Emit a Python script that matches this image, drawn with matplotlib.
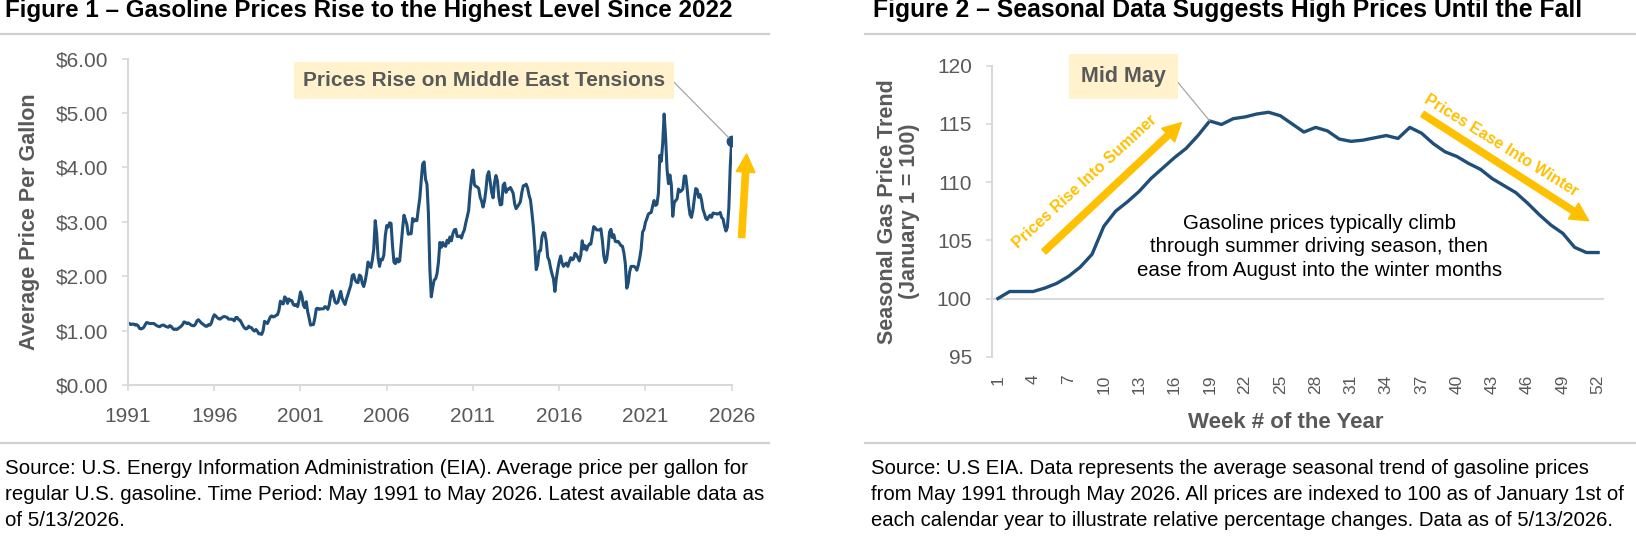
import matplotlib.pyplot as plt
from matplotlib.lines import Line2D

# ---- data: Figure 1, average U.S. regular gasoline price ($/gal), monthly, May 1991 - May 2026
p1991 = [1.14, 1.13, 1.11, 1.12, 1.12, 1.10, 1.11, 1.09]          # May-Dec
p1992 = [1.04, 1.03, 1.04, 1.06, 1.11, 1.15, 1.14, 1.13, 1.13, 1.13, 1.13, 1.11]
p1993 = [1.09, 1.08, 1.07, 1.09, 1.10, 1.10, 1.08, 1.07, 1.06, 1.09, 1.08, 1.04]
p1994 = [1.02, 1.03, 1.02, 1.04, 1.06, 1.08, 1.11, 1.16, 1.15, 1.13, 1.14, 1.12]
p1995 = [1.10, 1.09, 1.09, 1.12, 1.18, 1.20, 1.17, 1.14, 1.12, 1.10, 1.08, 1.08]
p1996 = [1.11, 1.10, 1.14, 1.23, 1.29, 1.27, 1.24, 1.22, 1.21, 1.23, 1.25, 1.26]
p1997 = [1.25, 1.24, 1.21, 1.21, 1.21, 1.20, 1.18, 1.24, 1.24, 1.20, 1.19, 1.14]
p1998 = [1.09, 1.05, 1.03, 1.04, 1.08, 1.06, 1.05, 1.01, 0.99, 1.02, 0.99, 0.94]
p1999 = [0.94, 0.93, 1.00, 1.17, 1.15, 1.13, 1.19, 1.25, 1.27, 1.25, 1.26, 1.28]
p2000 = [1.29, 1.37, 1.54, 1.50, 1.49, 1.62, 1.59, 1.50, 1.58, 1.55, 1.55, 1.48]
p2001 = [1.46, 1.48, 1.44, 1.56, 1.71, 1.63, 1.47, 1.42, 1.53, 1.35, 1.23, 1.10]
p2002 = [1.11, 1.11, 1.23, 1.40, 1.41, 1.39, 1.40, 1.40, 1.40, 1.44, 1.43, 1.39]
p2003 = [1.47, 1.64, 1.73, 1.64, 1.53, 1.50, 1.52, 1.62, 1.72, 1.59, 1.53, 1.48]
p2004 = [1.58, 1.66, 1.75, 1.83, 2.01, 2.03, 1.93, 1.89, 1.88, 2.02, 2.00, 1.87]
p2005 = [1.81, 1.91, 2.06, 2.26, 2.20, 2.16, 2.30, 2.50, 3.02, 2.78, 2.34, 2.18]
p2006 = [2.31, 2.30, 2.39, 2.74, 2.93, 2.90, 2.98, 2.97, 2.57, 2.26, 2.23, 2.32]
p2007 = [2.26, 2.28, 2.58, 2.86, 3.12, 3.04, 2.95, 2.77, 2.78, 2.78, 3.06, 3.01]
p2008 = [3.04, 3.02, 3.24, 3.43, 3.76, 4.06, 4.10, 3.78, 3.69, 3.16, 2.13, 1.62]
p2009 = [1.79, 1.93, 1.95, 2.05, 2.26, 2.62, 2.53, 2.62, 2.56, 2.55, 2.66, 2.61]
p2010 = [2.72, 2.65, 2.78, 2.85, 2.86, 2.73, 2.73, 2.74, 2.70, 2.79, 2.85, 2.98]
p2011 = [3.09, 3.21, 3.56, 3.80, 3.95, 3.68, 3.65, 3.64, 3.61, 3.45, 3.38, 3.27]
p2012 = [3.38, 3.58, 3.85, 3.92, 3.73, 3.54, 3.44, 3.72, 3.85, 3.75, 3.45, 3.31]
p2013 = [3.32, 3.67, 3.71, 3.54, 3.60, 3.60, 3.63, 3.58, 3.52, 3.33, 3.24, 3.28]
p2014 = [3.32, 3.37, 3.54, 3.66, 3.67, 3.69, 3.62, 3.49, 3.40, 3.17, 2.91, 2.55]
p2015 = [2.12, 2.21, 2.46, 2.47, 2.72, 2.80, 2.79, 2.64, 2.35, 2.29, 2.15, 2.04]
p2016 = [1.95, 1.72, 1.96, 2.13, 2.27, 2.37, 2.24, 2.18, 2.22, 2.24, 2.18, 2.26]
p2017 = [2.34, 2.30, 2.32, 2.42, 2.39, 2.34, 2.28, 2.38, 2.65, 2.50, 2.56, 2.48]
p2018 = [2.55, 2.59, 2.59, 2.75, 2.91, 2.89, 2.85, 2.85, 2.85, 2.87, 2.66, 2.38]
p2019 = [2.25, 2.31, 2.51, 2.81, 2.86, 2.71, 2.76, 2.64, 2.63, 2.64, 2.60, 2.56]
p2020 = [2.55, 2.43, 2.23, 1.78, 1.87, 2.08, 2.18, 2.18, 2.18, 2.16, 2.11, 2.20]
p2021 = [2.33, 2.50, 2.81, 2.86, 2.99, 3.06, 3.14, 3.16, 3.17, 3.29, 3.39, 3.30]
p2022 = [3.32, 3.52, 4.22, 4.11, 4.44, 4.98, 4.56, 3.97, 3.70, 3.86, 3.68, 3.10]
p2023 = [3.35, 3.39, 3.42, 3.60, 3.55, 3.57, 3.60, 3.84, 3.84, 3.61, 3.32, 3.13]
p2024 = [3.08, 3.21, 3.42, 3.61, 3.59, 3.45, 3.50, 3.40, 3.23, 3.15, 3.06, 3.04]
p2025 = [3.09, 3.12, 3.08, 3.16, 3.15, 3.15, 3.14, 3.15, 3.17, 3.08, 3.05, 2.92]
p2026 = [2.83, 2.90, 3.25, 4.02, 4.49]                             # Jan-May

gas_price = (p1991 + p1992 + p1993 + p1994 + p1995 + p1996 + p1997 + p1998 + p1999
             + p2000 + p2001 + p2002 + p2003 + p2004 + p2005 + p2006 + p2007 + p2008
             + p2009 + p2010 + p2011 + p2012 + p2013 + p2014 + p2015 + p2016 + p2017
             + p2018 + p2019 + p2020 + p2021 + p2022 + p2023 + p2024 + p2025 + p2026)
months = list(range(len(gas_price)))
year_labels = ['1991', '1996', '2001', '2006', '2011', '2016', '2021', '2026']
price_ticks = [0, 1, 2, 3, 4, 5, 6]

# ---- data: Figure 2, seasonal index by week (Jan 1 = 100)
weeks = list(range(1, 53))
seasonal_index = [100.0, 100.6, 100.6, 100.6, 100.9, 101.3, 101.9, 102.7, 103.8, 106.2,
                  107.5, 108.3, 109.2, 110.3, 111.2, 112.1, 112.9, 114.0, 115.25, 114.95,
                  115.45, 115.6, 115.85, 116.0, 115.7, 115.0, 114.3, 114.7, 114.4, 113.7,
                  113.5, 113.6, 113.8, 114.0, 113.75, 114.7, 114.2, 113.3, 112.6, 112.2,
                  111.6, 111.1, 110.3, 109.7, 109.1, 108.2, 107.2, 106.3, 105.6, 104.4,
                  103.95, 103.95]
index_ticks = [95, 100, 105, 110, 115, 120]

title1 = 'Figure 1 \u2013 Gasoline Prices Rise to the Highest Level Since 2022'
title2 = 'Figure 2 \u2013 Seasonal Data Suggests High Prices Until the Fall'
note1 = ['Source: U.S. Energy Information Administration (EIA). Average price per gallon for',
         'regular U.S. gasoline. Time Period: May 1991 to May 2026. Latest available data as',
         'of 5/13/2026.']
note2 = ['Source: U.S EIA. Data represents the average seasonal trend of gasoline prices',
         'from May 1991 through May 2026. All prices are indexed to 100 as of January 1st of',
         'each calendar year to illustrate relative percentage changes. Data as of 5/13/2026.']

NAVY = '#1f4e79'
GOLD = '#ffc000'
GREY = '#595959'
AXIS = '#d9d9d9'
RULE = '#d0d0d0'
BOX = '#fff2cc'

plt.rcParams['font.family'] = ['Liberation Sans', 'DejaVu Sans']

W, H = 1636, 541
fig = plt.figure(figsize=(W / 100, H / 100), dpi=100)


def fx(px):
    return px / W


def fy(py):
    return 1 - py / H


def style(ax):
    for s in ['top', 'right']:
        ax.spines[s].set_visible(False)
    for s in ['left', 'bottom']:
        ax.spines[s].set_color(AXIS)
        ax.spines[s].set_linewidth(1.5)
    ax.tick_params(colors=AXIS, labelcolor=GREY, width=1.2, length=4, labelsize=15)


# ---- headers, rules, footnotes
fig.text(fx(5), fy(17.5), title1, fontsize=17.4, fontweight='bold', va='baseline')
fig.text(fx(873), fy(17.5), title2, fontsize=17.8, fontweight='bold', va='baseline')
for x0, x1 in [(0, 769), (865, 1636)]:
    for yy in [34.3, 443.3]:
        fig.add_artist(Line2D([fx(x0), fx(x1)], [fy(yy), fy(yy)], color=RULE, lw=1.6,
                              transform=fig.transFigure))
for i, line in enumerate(note1):
    fig.text(fx(5), fy(468 + 26.5 * i), line, fontsize=14.8, va='center')
for i, line in enumerate(note2):
    fig.text(fx(871), fy(468 + 26.5 * i), line, fontsize=14.6, va='center')

# ---- Figure 1
ax1 = fig.add_axes([fx(128), fy(385), 603.7 / W, 326.5 / H])
style(ax1)
ax1.plot(months, gas_price, color=NAVY, lw=2.2, solid_joinstyle='round')
ax1.plot(months[-1], gas_price[-1], 'o', color=NAVY, ms=7.5)
ax1.set_xlim(0, months[-1])
ax1.set_ylim(0, 6)
ax1.set_xticks(months[::60])
ax1.set_xticklabels(year_labels)
ax1.set_yticks(price_ticks)
ax1.set_yticklabels(['${:.2f}'.format(v) for v in price_ticks])
ax1.tick_params(axis='x', pad=11.8)
ax1.tick_params(axis='y', pad=10.4)
ax1.set_ylabel('Average Price Per Gallon', fontsize=15.5, fontweight='bold', color=GREY)
ax1.yaxis.set_label_coords(-0.146, 0.5)

ax1.annotate('Prices Rise on Middle East Tensions', xy=(months[-1], gas_price[-1]),
             xytext=(247.7, 5.60), ha='center', va='center', fontsize=15,
             fontweight='bold', color=GREY,
             bbox=dict(boxstyle='square,pad=0.42', fc=BOX, ec='none'),
             arrowprops=dict(arrowstyle='-', color='#a6a6a6', lw=0.9, relpos=(1, 0.5),
                             connectionstyle='arc,angleA=0,angleB=0,armA=7,armB=0,rad=0',
                             shrinkA=0, shrinkB=3))
ax1.annotate('', xy=(430.4, 4.245), xytext=(426.9, 2.71), annotation_clip=False,
             arrowprops=dict(arrowstyle='simple,head_length=1.3,head_width=1.35,tail_width=0.45',
                             color=GOLD, mutation_scale=10, shrinkA=0, shrinkB=0))

# ---- Figure 2
ax2 = fig.add_axes([fx(992), fy(356.7), 612 / W, 291 / H])
style(ax2)
ax2.spines['bottom'].set_visible(False)
ax2.axhline(100, color=AXIS, lw=1.5, zorder=1)
ax2.plot(weeks, seasonal_index, color=NAVY, lw=2.4, solid_joinstyle='round', zorder=3)
ax2.set_xlim(0.5, 52.5)
ax2.set_ylim(95, 120)
ax2.set_yticks(index_ticks)
ax2.set_xticks(weeks[::3])
ax2.tick_params(axis='x', length=0, pad=13, labelsize=12.5, labelrotation=90)
ax2.tick_params(axis='y', pad=10.4)
ax2.set_ylabel('Seasonal Gas Price Trend\n(January 1 = 100)', fontsize=15.5,
               fontweight='bold', color=GREY, linespacing=1.05)
ax2.yaxis.set_label_coords(-0.118, 0.5)
ax2.set_xlabel('Week # of the Year', fontsize=16, fontweight='bold', color=GREY)
ax2.xaxis.set_label_coords(0.48, -0.19)

ax2.annotate('Mid May', xy=(weeks[18], seasonal_index[18]), xytext=(11.67, 119.09),
             ha='center', va='center', fontsize=15.5, fontweight='bold', color=GREY,
             bbox=dict(boxstyle='square,pad=0.55', fc=BOX, ec='none'),
             arrowprops=dict(arrowstyle='-', color='#a6a6a6', lw=0.9, relpos=(1, 0.5),
                             connectionstyle='arc,angleA=0,angleB=0,armA=7,armB=0,rad=0',
                             shrinkA=0, shrinkB=0))

ax2.annotate('', xy=(16.59, 115.1), xytext=(4.91, 104.02),
             arrowprops=dict(arrowstyle='simple,head_length=1.3,head_width=1.35,tail_width=0.45',
                             color=GOLD, mutation_scale=10, shrinkA=0, shrinkB=0))
ax2.text(8.4, 110.0, 'Prices Rise Into Summer', rotation=42.5, rotation_mode='anchor',
         ha='center', va='center', fontsize=11.5, fontweight='bold', color=GOLD)

ax2.annotate('', xy=(51.2, 106.68), xytext=(37.08, 115.85),
             arrowprops=dict(arrowstyle='simple,head_length=1.3,head_width=1.35,tail_width=0.45',
                             color=GOLD, mutation_scale=10, shrinkA=0, shrinkB=0))
ax2.text(43.77, 113.14, 'Prices Ease Into Winter', rotation=-32, rotation_mode='anchor',
         ha='center', va='center', fontsize=11.5, fontweight='bold', color=GOLD)

ax2.text(28.3, 104.45, 'Gasoline prices typically climb\nthrough summer driving season, then\n'
         'ease from August into the winter months', ha='center', va='center',
         fontsize=14.8, linespacing=1.3, color='black')

fig.savefig('out.png', dpi=100)
